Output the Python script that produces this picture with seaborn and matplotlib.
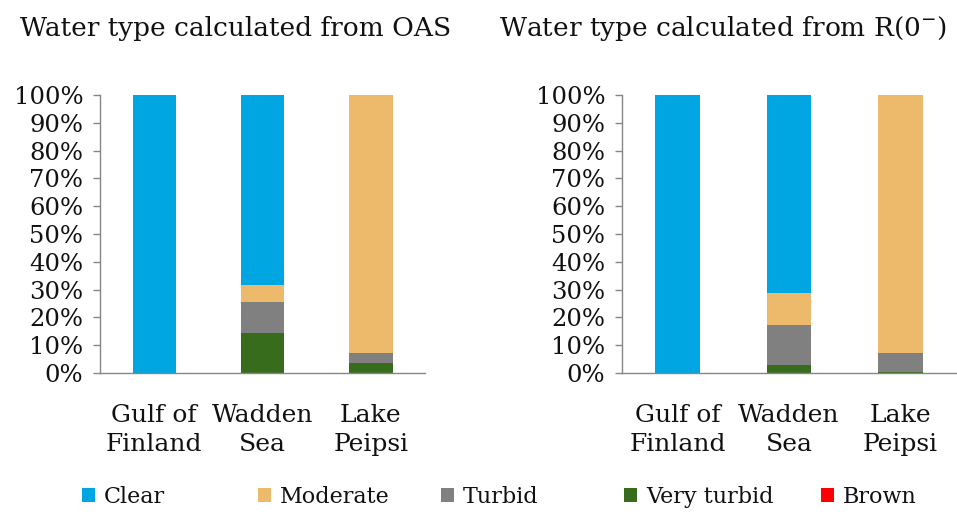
import matplotlib
matplotlib.use("Agg")
import matplotlib.pyplot as plt
from matplotlib.patches import Patch
import numpy as np
import pandas as pd
import seaborn as sns

sites = ["Gulf of\nFinland", "Wadden\nSea", "Lake\nPeipsi"]
types = ["Clear", "Moderate", "Turbid", "Very turbid", "Brown"]
colors = ["#00A6E2", "#EDBA6C", "#808080", "#376C1C", "#FF0000"]

# percentages per site, OAS panel
oas_clear = [100.0, 68.3, 0.0]
oas_moderate = [0.0, 6.0, 92.9]
oas_turbid = [0.0, 11.3, 3.4]
oas_very_turbid = [0.0, 14.4, 3.7]
oas_brown = [0.0, 0.0, 0.0]

# percentages per site, R(0-) panel
r_clear = [100.0, 71.2, 0.0]
r_moderate = [0.0, 11.5, 92.7]
r_turbid = [0.0, 14.3, 7.0]
r_very_turbid = [0.0, 3.0, 0.3]
r_brown = [0.0, 0.0, 0.0]

titles = ["Water type calculated from OAS", "Water type calculated from R(0$^{-}$)"]
yticks = [0, 10, 20, 30, 40, 50, 60, 70, 80, 90, 100]

sns.set_theme(style="white")
plt.rcParams["font.family"] = ["DejaVu Serif"]

fig = plt.figure(figsize=(9.57, 5.14), dpi=100)
ax1 = fig.add_axes([0.1045, 0.2743, 0.3396, 0.5409])
ax2 = fig.add_axes([0.650, 0.2743, 0.349, 0.5409])

panels = [
    (ax1, [oas_clear, oas_moderate, oas_turbid, oas_very_turbid, oas_brown]),
    (ax2, [r_clear, r_moderate, r_turbid, r_very_turbid, r_brown]),
]

for (ax, series), title in zip(panels, titles):
    # stack from bottom: Brown, Very turbid, Turbid, Moderate, Clear
    order = [4, 3, 2, 1, 0]
    bottoms = np.zeros(len(sites))
    for idx in order:
        vals = np.array(series[idx])
        df = pd.DataFrame({"site": sites, "value": vals})
        sns.barplot(data=df, x="site", y="value", color=colors[idx], ax=ax,
                    width=0.4, bottom=bottoms, edgecolor="none", linewidth=0,
                    saturation=1)
        bottoms = bottoms + vals
    ax.set_ylim(0, 100)
    ax.set_xlim(-0.5, 2.5)
    ax.set_yticks(yticks)
    ax.set_yticklabels([f"{t}%" for t in yticks], fontsize=17.5, color="#111111")
    ax.set_xlabel("")
    ax.set_ylabel("")
    ax.set_xticks(range(len(sites)))
    ax.set_xticklabels(sites, fontsize=18, linespacing=1.38, color="#111111")
    ax.tick_params(axis="x", which="major", length=0, pad=22)
    ax.set_xticks([-0.5, 0.5, 1.5, 2.5], minor=True)
    ax.tick_params(axis="x", which="minor", length=9, width=1, color="#868686", direction="out")
    ax.tick_params(axis="y", which="major", length=5, width=1, color="#868686", direction="out",
                   left=True, pad=7)
    for s in ["top", "right"]:
        ax.spines[s].set_visible(False)
    for s in ["left", "bottom"]:
        ax.spines[s].set_color("#868686")
        ax.spines[s].set_linewidth(1)
    ax.grid(False)
    ax.set_facecolor("white")

fig.text(0.246, 0.945, titles[0], ha="center", va="center", fontsize=19, color="#111111")
fig.text(0.755, 0.945, titles[1], ha="center", va="center", fontsize=19, color="#111111")

# one legend entry per slot, placed like the reference
legend_x = [82, 258, 441, 624, 821]
for lx, label, c in zip(legend_x, types, colors):
    leg = fig.legend([Patch(facecolor=c, edgecolor="none")], [label], loc="center left",
                     bbox_to_anchor=(lx / 957, 0.033), frameon=False, fontsize=16,
                     handlelength=0.6, handleheight=0.6, handletextpad=0.4,
                     borderpad=0, borderaxespad=0)
    for t in leg.get_texts():
        t.set_color("#111111")

fig.savefig("out.png", dpi=100, facecolor="white")
